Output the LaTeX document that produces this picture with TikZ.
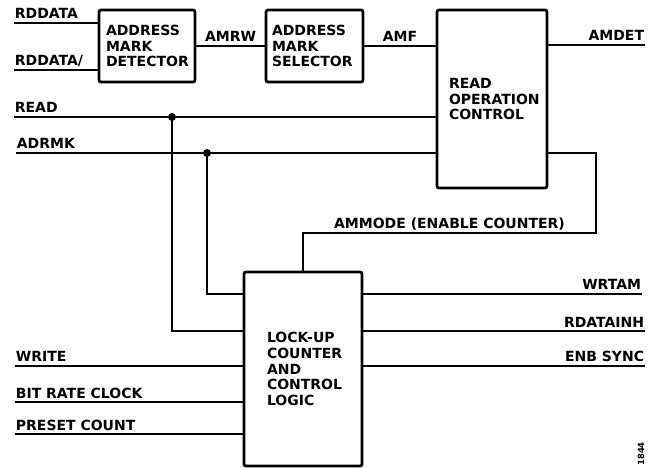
\documentclass[tikz,border=0pt]{standalone}
\usepackage{fontspec}
\setmainfont{DejaVu Sans}
\usetikzlibrary{calc,positioning}
\newcommand{\lblfont}{\bfseries\fontsize{14}{15.8}\selectfont}
\tikzset{
    block/.style={
        draw,line width=2.8pt,rounded corners=2pt,
        align=left,inner ysep=0pt,
        font=\lblfont
    },
    sig/.style={line width=1.8pt},
    inlbl/.style={anchor=base west,inner sep=0pt,yshift=4pt,font=\lblfont},
    outlbl/.style={anchor=base east,inner sep=0pt,yshift=4pt,font=\lblfont},
    midlbl/.style={anchor=base,inner sep=0pt,yshift=4pt,font=\lblfont}
}
\begin{document}
\begin{tikzpicture}[x=1pt,y=-1pt]
\useasboundingbox (0,0) rectangle (657,468);
% blocks
\node[block,minimum width=96pt,minimum height=72pt,text width=82pt] (amd) at (147,46) {ADDRESS\\MARK\\DETECTOR};
\node[block,minimum width=97pt,minimum height=72pt,text width=85pt] (ams) at (314.5,46) {ADDRESS\\MARK\\SELECTOR};
\node[block,minimum width=110pt,minimum height=178pt,text width=86pt] (roc) at (492,99) {READ\\OPERATION\\CONTROL};
\node[block,minimum width=118pt,minimum height=194pt,text width=72pt] (luc) at (303,369) {LOCK-UP\\COUNTER\\AND\\CONTROL\\LOGIC};
% top row
\coordinate (rdin) at (14,23);
\coordinate (rdnin) at (14,70);
\draw[sig] (rdin) node[inlbl] (l_rd) {RDDATA} -- (rdin -| amd.west);
\draw[sig] (rdnin) node[inlbl] (l_rdn) {RDDATA/} -- (rdnin -| amd.west);
\draw[sig] (amd) -- node[midlbl] (l_amrw) {AMRW} (ams);
\draw[sig] (ams.east) -- node[midlbl] (l_amf) {AMF} (ams.east -| roc.west);
\coordinate (amdet) at (645,45);
\draw[sig] (roc.east |- amdet) -- (amdet) node[outlbl] (l_amdet) {AMDET};
% read and adrmk buses
\coordinate (readin) at (14,117);
\coordinate (admin) at (16,153);
\coordinate (jread) at (172,117);
\coordinate (jadr) at (207,153);
\draw[sig] (readin) node[inlbl] (l_read) {READ} -- (readin -| roc.west);
\draw[sig] (admin) node[inlbl] (l_adm) {ADRMK} -- (admin -| roc.west);
% outputs of lock-up counter
\foreach \x/\y/\name/\txt in {642/294/wrtam/WRTAM,645/331/rdinh/RDATAINH,645/366/enb/ENB SYNC} {
    \coordinate (\name) at (\x,\y);
    \draw[sig] (luc.east |- \name) -- (\name) node[outlbl] (l_\name) {\txt};
}
% inputs of lock-up counter
\foreach \y/\name/\txt in {366/wr/WRITE,402/brc/BIT RATE CLOCK,434/pc/PRESET COUNT} {
    \coordinate (\name) at (15,\y);
    \draw[sig] (\name) node[inlbl] (l_\name) {\txt} -- (\name -| luc.west);
}
\draw[sig] (jread) |- (luc.west |- rdinh);
\draw[sig] (jadr) |- (luc.west |- wrtam);
\fill (jread) circle (4pt);
\fill (jadr) circle (4pt);
% ammode
\coordinate (amc) at (596,233);
\draw[sig] (roc.east |- admin) -| (amc) -- node[midlbl] (l_ammode) {AMMODE (ENABLE COUNTER)} (amc -| luc.north) -- (luc.north);
\node[rotate=90,inner sep=0pt,font=\bfseries\fontsize{8.5}{10}\selectfont] (fignum) at (641,454) {1844};
\end{tikzpicture}
\end{document}
